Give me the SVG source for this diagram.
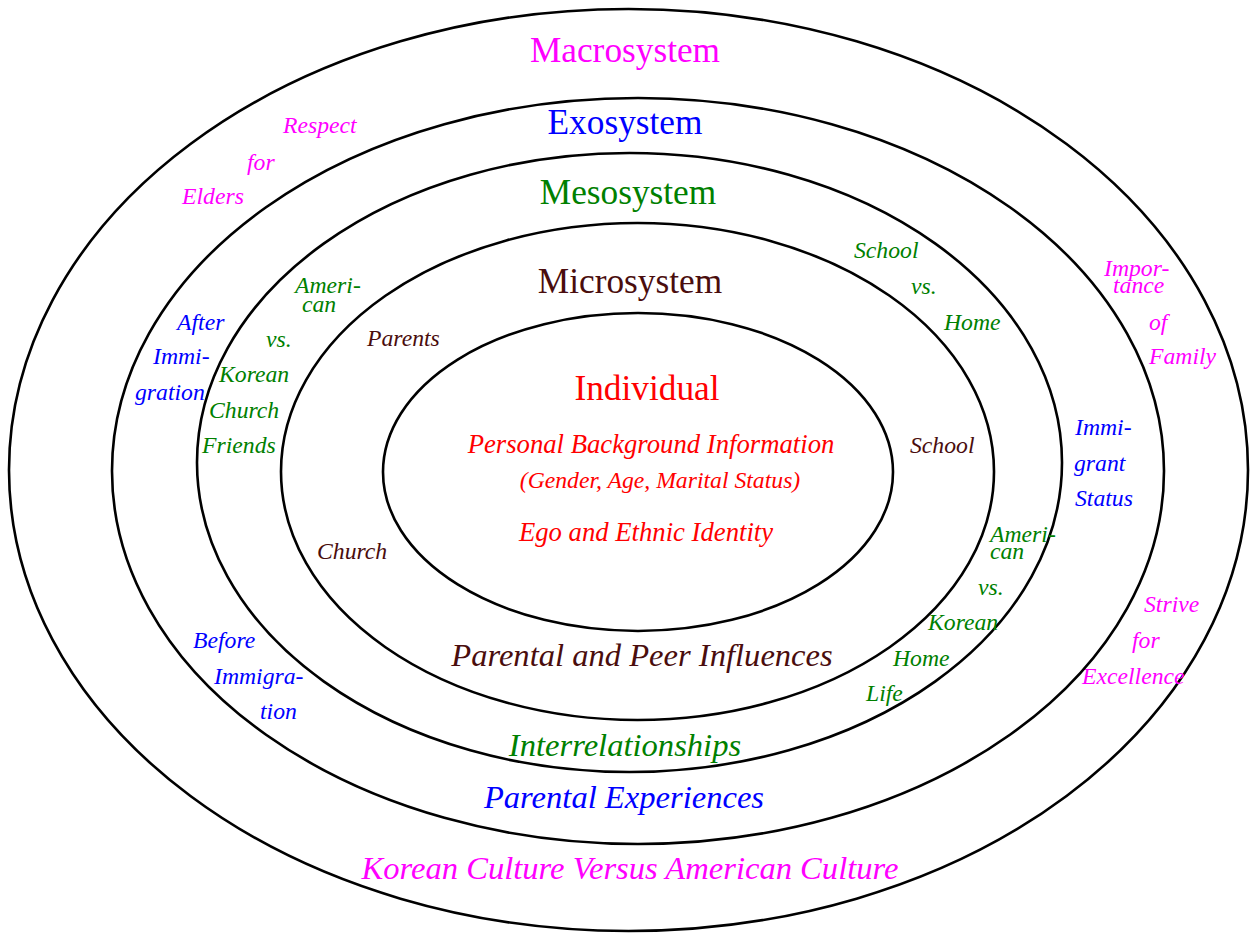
<svg xmlns="http://www.w3.org/2000/svg" width="1250" height="934" viewBox="0 0 1250 934">
<style>
.ring{fill:none;stroke:#000;stroke-width:2.6}
text{font-family:"Liberation Serif","Times New Roman",serif}
.t{font-size:35.3px;text-anchor:middle}
.b{font-size:32.6px;font-style:italic;text-anchor:middle}
.m{font-size:26.7px;font-style:italic;text-anchor:middle}
.s{font-size:23.7px;font-style:italic}
.mag{fill:#ff00ff}.blu{fill:#0000ff}.grn{fill:#008000}.brn{fill:#4a0d0d}.red{fill:#ff0000}
</style>
<rect width="1250" height="934" fill="#fff"/>
<g id="macrosystem">
<ellipse class="ring" cx="628.5" cy="470" rx="619.5" ry="461"/>
<text class="t mag" x="625" y="62">Macrosystem</text>
<text class="b mag" x="630" y="879">Korean Culture Versus American Culture</text>
<text class="s mag" x="283" y="133">Respect</text>
<text class="s mag" x="247" y="170">for</text>
<text class="s mag" x="182" y="204">Elders</text>
<text class="s mag" x="1104" y="276">Impor-</text>
<text class="s mag" x="1113" y="293">tance</text>
<text class="s mag" x="1149" y="330">of</text>
<text class="s mag" x="1149" y="364">Family</text>
<text class="s mag" x="1144" y="612">Strive</text>
<text class="s mag" x="1132" y="648">for</text>
<text class="s mag" x="1082" y="684">Excellence</text>
</g>
<g id="exosystem">
<ellipse class="ring" cx="638" cy="471" rx="526" ry="373"/>
<text class="t blu" x="625" y="134">Exosystem</text>
<text class="b blu" x="624" y="808">Parental Experiences</text>
<text class="s blu" x="177" y="330">After</text>
<text class="s blu" x="153" y="364">Immi-</text>
<text class="s blu" x="135" y="400">gration</text>
<text class="s blu" x="1075" y="435">Immi-</text>
<text class="s blu" x="1074" y="471">grant</text>
<text class="s blu" x="1075" y="506">Status</text>
<text class="s blu" x="193" y="648">Before</text>
<text class="s blu" x="214" y="684">Immigra-</text>
<text class="s blu" x="260" y="719">tion</text>
</g>
<g id="mesosystem">
<ellipse class="ring" cx="629.5" cy="462.5" rx="432.5" ry="309.5"/>
<text class="t grn" x="628" y="204">Mesosystem</text>
<text class="b grn" x="625" y="756">Interrelationships</text>
<text class="s grn" x="295" y="293">Ameri-</text>
<text class="s grn" x="302" y="312">can</text>
<text class="s grn" x="266" y="347">vs.</text>
<text class="s grn" x="219" y="382">Korean</text>
<text class="s grn" x="209" y="418">Church</text>
<text class="s grn" x="202" y="453">Friends</text>
<text class="s grn" x="854" y="258">School</text>
<text class="s grn" x="911" y="294">vs.</text>
<text class="s grn" x="944" y="330">Home</text>
<text class="s grn" x="990" y="542">Ameri-</text>
<text class="s grn" x="990" y="559">can</text>
<text class="s grn" x="978" y="595">vs.</text>
<text class="s grn" x="928" y="630">Korean</text>
<text class="s grn" x="893" y="666">Home</text>
<text class="s grn" x="866" y="701">Life</text>
</g>
<g id="microsystem">
<ellipse class="ring" cx="637.5" cy="471.5" rx="356.5" ry="248.5"/>
<text class="t brn" x="630" y="293">Microsystem</text>
<text class="b brn" x="642" y="666">Parental and Peer Influences</text>
<text class="s brn" x="367" y="346">Parents</text>
<text class="s brn" x="910" y="453">School</text>
<text class="s brn" x="317" y="559">Church</text>
</g>
<g id="individual">
<ellipse class="ring" cx="638" cy="472" rx="255" ry="159"/>
<text class="t red" x="647" y="400">Individual</text>
<text class="m red" x="651" y="453">Personal Background Information</text>
<text class="s red" x="660" y="488" text-anchor="middle">(Gender, Age, Marital Status)</text>
<text class="m red" x="646" y="541">Ego and Ethnic Identity</text>
</g>
<g id="connectors"></g>
</svg>
